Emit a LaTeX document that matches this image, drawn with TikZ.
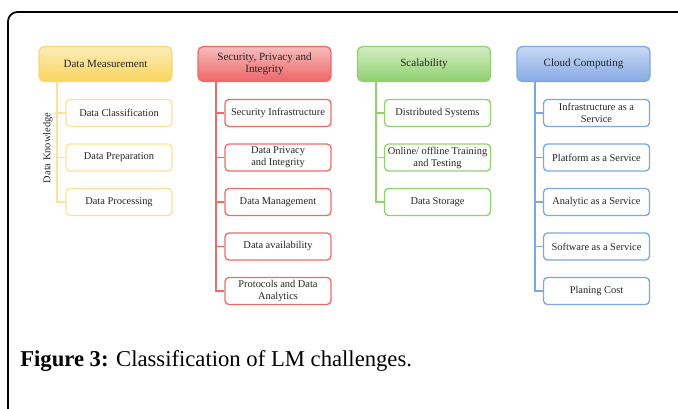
\documentclass[tikz,border=0pt]{standalone}
\usepackage{fontspec}
\setmainfont{Liberation Serif}
\usepackage{xcolor}

\definecolor{dmtop}{HTML}{FCEDB8}
\definecolor{dmbot}{HTML}{FBD45E}
\definecolor{dmline}{HTML}{F9D67A}
\definecolor{dmleaf}{HTML}{FDE196}
\definecolor{sptop}{HTML}{F6BDBD}
\definecolor{spbot}{HTML}{EE6565}
\definecolor{spline}{HTML}{F06A6A}
\definecolor{sctop}{HTML}{D3EDC3}
\definecolor{scbot}{HTML}{8FCF6E}
\definecolor{scline}{HTML}{92D172}
\definecolor{cctop}{HTML}{C8D9F4}
\definecolor{ccbot}{HTML}{86A9E5}
\definecolor{ccline}{HTML}{7EA6E0}
\definecolor{txt}{HTML}{262626}

\tikzset{
	head/.style={
			draw=#1, line width=1pt, rounded corners=4pt,
			minimum width=99.75pt, minimum height=26.25pt, inner sep=1pt,
			align=center, text=txt, font=\fontsize{8.3}{9}\selectfont
		},
	leaf/.style={
			draw=#1, fill=white, line width=1pt, rounded corners=3pt,
			minimum width=79.5pt, minimum height=20.25pt, inner sep=1pt,
			align=center, text=txt, font=\fontsize{7.8}{9}\selectfont
		},
	trunk/.style={draw=#1, line width=1pt}
}

\begin{document}
\begin{tikzpicture}[x=0.75pt, y=-0.75pt]
			\useasboundingbox (0,0) rectangle (678,408);

			% Draw the frame
			\draw[line width=1.3pt, rounded corners=7pt] (8,420) -- (8,12) -- (690,12);

			% Draw the headers
			\node[head=dmline, top color=dmtop, bottom color=dmbot] (dm) at (105.5,64) {Data Measurement};
			\node[head=spline, top color=sptop, bottom color=spbot] (sp) at (264.5,64) {Security, Privacy and\\Integrity};
			\node[head=scline, top color=sctop, bottom color=scbot] (sc) at (424,64) {Scalability};
			\node[head=ccline, top color=cctop, bottom color=ccbot] (cc) at (583.5,64) {Cloud Computing};

			% Data Measurement
			\node[leaf=dmleaf] (dm1) at (119,113) {Data Classification};
			\node[leaf=dmleaf] (dm2) at (119,157.5) {Data Preparation};
			\node[leaf=dmleaf] (dm3) at (119,202) {Data Processing};
			\coordinate (dmk) at (57,82);
			\draw[trunk=dmleaf] (dmk) |- (dm1.west);
			\draw[trunk=dmleaf] (dmk) |- (dm2.west);
			\draw[trunk=dmleaf] (dmk) |- (dm3.west);
			\node[rotate=90, text=txt, font=\fontsize{7.8}{9}\selectfont] (dk) at (48,148) {Data Knowledge};

			% Security, Privacy and Integrity
			\node[leaf=spline] (sp1) at (278,113) {Security Infrastructure};
			\node[leaf=spline] (sp2) at (278,157.5) {Data Privacy\\and Integrity};
			\node[leaf=spline] (sp3) at (278,202) {Data Management};
			\node[leaf=spline] (sp4) at (278,246.5) {Data availability};
			\node[leaf=spline] (sp5) at (278,291) {Protocols and Data\\Analytics};
			\coordinate (spk) at (216,82);
			\foreach \i in {1,...,5}
				\draw[trunk=spline] (spk) |- (sp\i.west);

			% Scalability
			\node[leaf=scline] (sc1) at (437.5,113) {Distributed Systems};
			\node[leaf=scline] (sc2) at (437.5,157.5) {Online/ offline Training\\and Testing};
			\node[leaf=scline] (sc3) at (437.5,202) {Data Storage};
			\coordinate (sck) at (376,82);
			\foreach \i in {1,...,3}
				\draw[trunk=scline] (sck) |- (sc\i.west);

			% Cloud Computing
			\node[leaf=ccline] (cc1) at (596.5,113) {Infrastructure as a\\Service};
			\node[leaf=ccline] (cc2) at (596.5,157.5) {Platform as a Service};
			\node[leaf=ccline] (cc3) at (596.5,202) {Analytic as a Service};
			\node[leaf=ccline] (cc4) at (596.5,246.5) {Software as a Service};
			\node[leaf=ccline] (cc5) at (596.5,291) {Planing Cost};
			\coordinate (cck) at (535,82);
			\foreach \i in {1,...,5}
				\draw[trunk=ccline] (cck) |- (cc\i.west);

			% Caption
			\node[anchor=base west, inner sep=0pt, font=\fontsize{17}{20}\selectfont] (cap) at (20,366) {\textbf{Figure 3:} Classification of LM challenges.};
		\end{tikzpicture}
\end{document}
